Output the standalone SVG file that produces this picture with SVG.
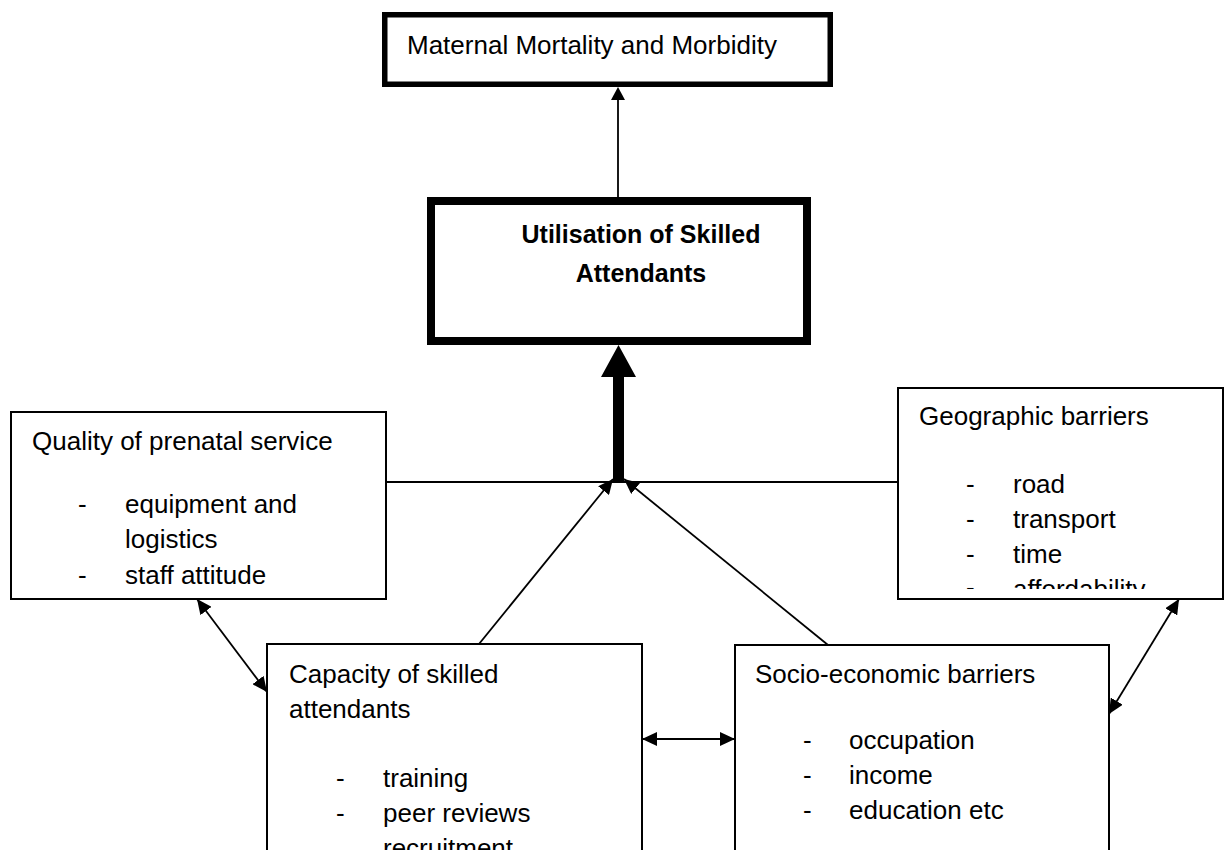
<svg xmlns="http://www.w3.org/2000/svg" width="1225" height="850" viewBox="0 0 1225 850">
  <style>
    .box { fill: #ffffff; stroke: #000000; stroke-width: 2; }
    .t { font-family: 'Liberation Sans', Arial, sans-serif; font-size: 26px; fill: #000000; }
    .tb { font-family: 'Liberation Sans', Arial, sans-serif; font-size: 25px; font-weight: bold; fill: #000000; text-anchor: middle; }
    .con { fill: none; stroke: #000000; stroke-width: 1.8; }
  </style>
  <defs>
    <marker id="ah" markerUnits="userSpaceOnUse" markerWidth="16" markerHeight="14" refX="15" refY="7" orient="auto-start-reverse">
      <path d="M0,0 L15,7 L0,14 z" fill="#000000"/>
    </marker>
    <clipPath id="clipGeo">
      <rect x="898" y="388" width="325" height="201"/>
    </clipPath>
  </defs>
  <rect x="0" y="0" width="1225" height="850" fill="#ffffff"/>

  <g id="connectors">
    <line class="con" x1="386" y1="482" x2="898" y2="482"/>
    <line class="con" x1="618" y1="197" x2="618" y2="99"/>
    <polygon points="618,87 611,100 625,100" fill="#000000"/>
    <polygon points="613,481 624,481 624,377 636,377 618.5,345 601,377 613,377" fill="#000000"/>
    <line class="con" x1="479" y1="644" x2="613" y2="479" marker-end="url(#ah)"/>
    <line class="con" x1="828" y1="645" x2="624" y2="479" marker-end="url(#ah)"/>
    <line class="con" x1="197" y1="599" x2="267" y2="692" marker-start="url(#ah)" marker-end="url(#ah)"/>
    <line class="con" x1="642" y1="739" x2="735" y2="739" marker-start="url(#ah)" marker-end="url(#ah)"/>
    <line class="con" x1="1179" y1="599" x2="1109" y2="714" marker-start="url(#ah)" marker-end="url(#ah)"/>
  </g>

  <g id="maternal">
    <rect x="384.75" y="14.75" width="445.5" height="69.5" fill="#ffffff" stroke="#000000" stroke-width="5.5"/>
    <text class="t" x="407" y="54">Maternal Mortality and Morbidity</text>
  </g>

  <g id="utilisation">
    <rect x="431" y="201" width="376" height="140" fill="#ffffff" stroke="#000000" stroke-width="8"/>
    <text class="tb" x="641" y="243">Utilisation of Skilled</text>
    <text class="tb" x="641" y="282">Attendants</text>
  </g>

  <g id="quality">
    <rect class="box" x="11" y="412" width="375" height="187"/>
    <text class="t" x="32" y="450">Quality of prenatal service</text>
    <text class="t" x="78" y="513">-</text>
    <text class="t" x="125" y="513">equipment and</text>
    <text class="t" x="125" y="548">logistics</text>
    <text class="t" x="78" y="584">-</text>
    <text class="t" x="125" y="584">staff attitude</text>
  </g>

  <g id="geographic">
    <rect class="box" x="898" y="388" width="325" height="211"/>
    <g clip-path="url(#clipGeo)">
      <text class="t" x="919" y="425">Geographic barriers</text>
      <text class="t" x="966" y="493">-</text>
      <text class="t" x="1013" y="493">road</text>
      <text class="t" x="966" y="528">-</text>
      <text class="t" x="1013" y="528">transport</text>
      <text class="t" x="966" y="563">-</text>
      <text class="t" x="1013" y="563">time</text>
      <text class="t" x="966" y="596">-</text>
      <text class="t" x="1013" y="598">affordability</text>
    </g>
  </g>

  <g id="capacity">
    <rect class="box" x="267" y="644" width="375" height="220"/>
    <text class="t" x="289" y="683">Capacity of skilled</text>
    <text class="t" x="289" y="718">attendants</text>
    <text class="t" x="336" y="787">-</text>
    <text class="t" x="383" y="787">training</text>
    <text class="t" x="336" y="822">-</text>
    <text class="t" x="383" y="822">peer reviews</text>
    <text class="t" x="336" y="859">-</text>
    <text class="t" x="383" y="857">recruitment</text>
  </g>

  <g id="socio">
    <rect class="box" x="735" y="645" width="374" height="220"/>
    <text class="t" x="755" y="683">Socio-economic barriers</text>
    <text class="t" x="803" y="749">-</text>
    <text class="t" x="849" y="749">occupation</text>
    <text class="t" x="803" y="784">-</text>
    <text class="t" x="849" y="784">income</text>
    <text class="t" x="803" y="819">-</text>
    <text class="t" x="849" y="819">education etc</text>
  </g>
</svg>
